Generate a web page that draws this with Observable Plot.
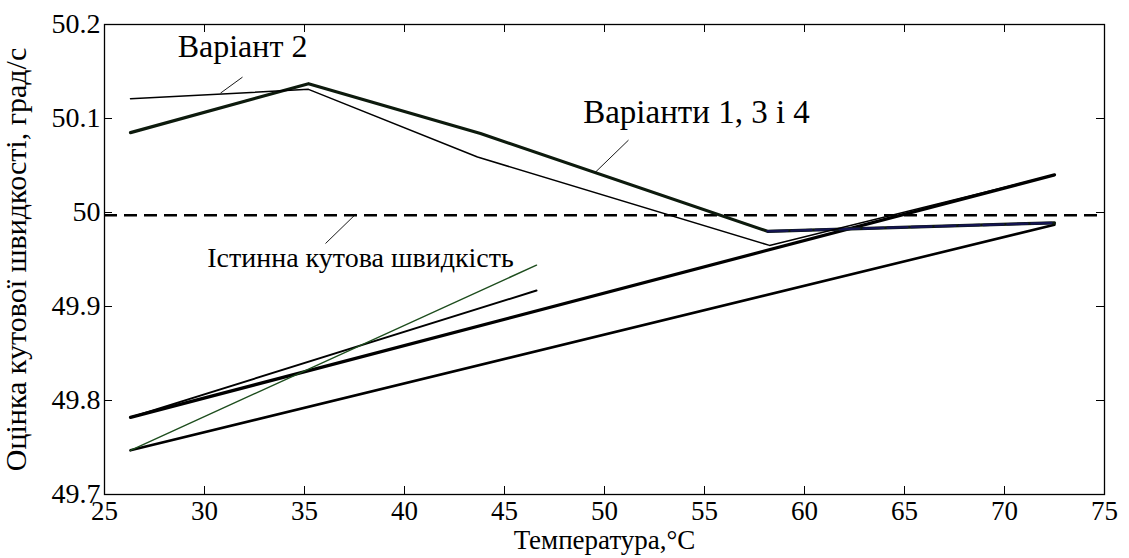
<!DOCTYPE html>
<html>
<head>
<meta charset="utf-8">
<script src="https://cdn.jsdelivr.net/npm/d3@7"></script>
<script src="https://cdn.jsdelivr.net/npm/@observablehq/plot@0.6"></script>
<style>
  html, body { margin: 0; padding: 0; background: #fff; }
  svg { display: block; }
  svg, svg text { font-family: "Liberation Serif", "Times New Roman", serif !important; }
</style>
</head>
<body>
<div id="chart"></div>
<script>
// ---- Axis ticks ----
const xTicks = [25, 30, 35, 40, 45, 50, 55, 60, 65, 70, 75];
const yTicks = [49.7, 49.8, 49.9, 50, 50.1, 50.2];

// ---- Series (temperature °C, angular-rate estimate deg/s) ----
const variant134T = [26.3, 35.2, 43.8, 58.15, 72.5];
const variant134V = [50.085, 50.137, 50.084, 49.980, 49.989];

const variant2T = [26.3, 35.2, 43.65, 58.25, 72.5];
const variant2V = [50.121, 50.131, 50.059, 49.965, 50.040];

const tailT = [58.15, 72.5];
const tailV = [49.980, 49.989];

const risingT = [26.3, 72.5];
const risingV = [49.782, 50.040];

const lowerT = [26.3, 72.5];
const lowerV = [49.747, 49.987];

const steepT = [26.3, 46.6];
const steepV = [49.747, 49.944];

const midT = [26.3, 46.6];
const midV = [49.782, 49.917];

const trueRate = [49.997];

// ---- Annotations ----
const labelVariant2 = ["Варіант 2"];
const labelVariant2T = [31.9];
const labelVariant2V = [50.176];
const labelVariants = ["Варіанти 1, 3 і 4"];
const labelVariantsT = [54.6];
const labelVariantsV = [50.106];
const labelTrue = ["Істинна кутова швидкість"];
const labelTrueT = [37.8];
const labelTrueV = [49.952];

const leaderT1 = [31.9, 51.2, 37.55];
const leaderV1 = [50.144, 50.077, 49.998];
const leaderT2 = [30.8, 49.55, 36.05];
const leaderV2 = [50.127, 50.043, 49.967];

const xTitle = "Температура,°C";
const yTitle = "Оцінка кутової швидкості, град/с";

const rows = (T, V) => T.map((t, i) => ({ t, v: V[i] }));

const font = "Liberation Serif";

const chart = Plot.plot({
  width: 1129,
  height: 558,
  marginLeft: 104,
  marginRight: 25,
  marginTop: 24,
  marginBottom: 64,
  x: { domain: [25, 75], label: null },
  y: { domain: [49.7, 50.2], label: null },
  style: { fontFamily: font, background: "#fff", color: "#000" },
  marks: [
    Plot.ruleY(trueRate, { y: d => d, stroke: "#000", strokeWidth: 2.5, strokeDasharray: "13,7" }),
    Plot.line(rows(lowerT, lowerV), { x: "t", y: "v", stroke: "#000", strokeWidth: 2.6 }),
    Plot.line(rows(risingT, risingV), { x: "t", y: "v", stroke: "#000", strokeWidth: 3.2 }),
    Plot.line(rows(midT, midV), { x: "t", y: "v", stroke: "#000", strokeWidth: 2 }),
    Plot.line(rows(steepT, steepV), { x: "t", y: "v", stroke: "#1d4d1d", strokeWidth: 1.4 }),
    Plot.line(rows(variant134T, variant134V), { x: "t", y: "v", stroke: "#0d1a0d", strokeWidth: 3.2 }),
    Plot.line(rows(tailT, tailV), { x: "t", y: "v", stroke: "#141450", strokeWidth: 2.4, strokeDasharray: "20,4" }),
    Plot.line(rows(variant2T, variant2V), { x: "t", y: "v", stroke: "#000", strokeWidth: 1.5 }),
    Plot.link(leaderT1, {
      x1: (d, i) => leaderT1[i], y1: (d, i) => leaderV1[i],
      x2: (d, i) => leaderT2[i], y2: (d, i) => leaderV2[i],
      stroke: "#000", strokeWidth: 0.9
    }),
    Plot.text(labelVariant2, { x: labelVariant2T, y: labelVariant2V, text: d => d, fontSize: 32, fontFamily: font, fill: "#000", textAnchor: "middle" }),
    Plot.text(labelVariants, { x: labelVariantsT, y: labelVariantsV, text: d => d, fontSize: 33, fontFamily: font, fill: "#000", textAnchor: "middle" }),
    Plot.text(labelTrue, { x: labelTrueT, y: labelTrueV, text: d => d, fontSize: 28, fontFamily: font, fill: "#000", textAnchor: "middle" }),
    Plot.tickX(xTicks, { x: d => d, insetTop: 462, stroke: "#000", strokeWidth: 1 }),
    Plot.tickX(xTicks, { x: d => d, insetBottom: 462, stroke: "#000", strokeWidth: 1 }),
    Plot.tickY(yTicks, { y: d => d, insetRight: 992, stroke: "#000", strokeWidth: 1 }),
    Plot.tickY(yTicks, { y: d => d, insetLeft: 992, stroke: "#000", strokeWidth: 1 }),
    Plot.axisX(xTicks, { anchor: "bottom", tickSize: 0, tickPadding: 6, fontSize: 27, fontFamily: font, tickFormat: d => String(d), label: null, fill: "#000" }),
    Plot.axisY(yTicks, { anchor: "left", tickSize: 0, tickPadding: 4, fontSize: 28, fontFamily: font, tickFormat: d => String(d), label: null, fill: "#000" }),
    Plot.frame({ stroke: "#000", strokeWidth: 1.3 }),
    Plot.text([xTitle], { frameAnchor: "bottom", dy: 46, lineAnchor: "middle", textAnchor: "middle", text: d => d, fontSize: 27, fontFamily: font, fill: "#000" }),
    Plot.text([yTitle], { frameAnchor: "left", dx: -88, rotate: -90, lineAnchor: "middle", textAnchor: "middle", text: d => d, fontSize: 30, fontFamily: font, fill: "#000" })
  ]
});

document.getElementById("chart").appendChild(chart);
</script>
</body>
</html>
